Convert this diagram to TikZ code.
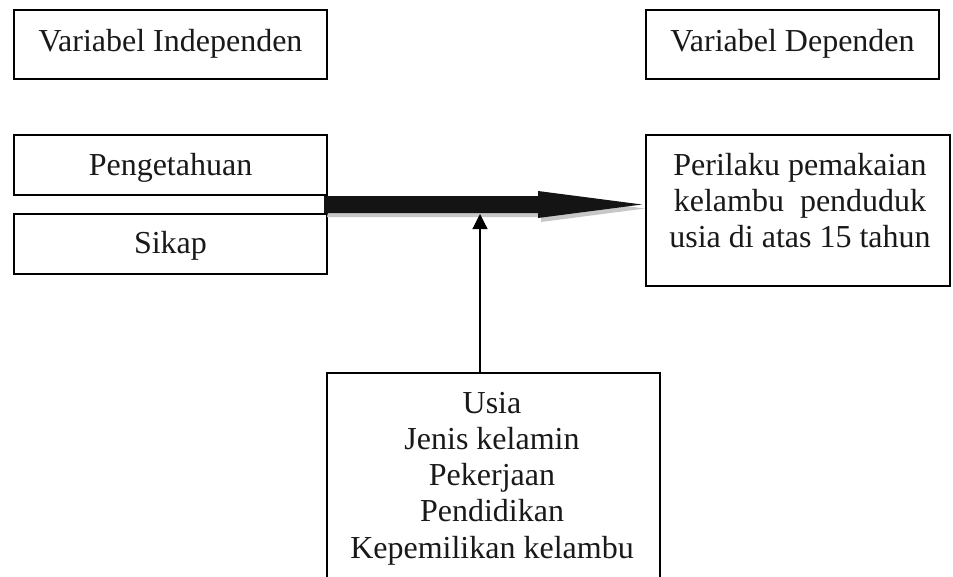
\documentclass[tikz,border=0pt]{standalone}
\usepackage{fontspec}
\setmainfont{Liberation Serif}
\usetikzlibrary{arrows.meta}
\begin{document}
\begin{tikzpicture}[x=1pt,y=-1pt,
  box/.style={draw=black, line width=1.6pt, inner sep=0pt},
  txt/.style={anchor=base, inner sep=0pt, font=\fontsize{32}{36}\selectfont, text=black!90},
  blockarrow/.style={fill=black!92},
  blockshadow/.style={fill=black!22},
  thinarrow/.style={line width=1.2pt, -{Triangle[length=15pt,width=15pt]}}
]
\useasboundingbox (0,0) rectangle (953,576);
\fill[white] (0,0) rectangle (953,576);

% header boxes
\node[box, minimum width=313pt, minimum height=69pt] (bIndep) at (170.5,44.5) {};
\node[txt] (tIndep) at (170.5,51) {Variabel Independen};
\node[box, minimum width=293pt, minimum height=69pt] (bDep) at (792.5,44.5) {};
\node[txt] (tDep) at (792.5,51) {Variabel Dependen};

% independent variable boxes
\node[box, minimum width=313pt, minimum height=60pt] (bPeng) at (170.5,165) {};
\node[txt] (tPeng) at (170.5,175) {Pengetahuan};
\node[box, minimum width=313pt, minimum height=60pt] (bSikap) at (170.5,244) {};
\node[txt] (tSikap) at (170.5,253) {Sikap};

% dependent variable box
\node[box, minimum width=304pt, minimum height=151pt] (bPer) at (798,210.5) {};
\node[txt] (p1) at (800,175) {Perilaku pemakaian};
\node[txt] (p2) at (800,211) {kelambu\ \ penduduk};
\node[txt] (p3) at (800,247) {usia di atas 15 tahun};

% confounding box
\node[box, minimum width=333pt, minimum height=220pt] (bUsia) at (493.5,483) {};
\foreach \t [count=\i] in {Usia, Jenis kelamin, Pekerjaan, Pendidikan, Kepemilikan kelambu}
  \node[txt] (u\i) at ({492},{413+36.25*(\i-1)}) {\t};

% block arrow (with shadow)
\coordinate (aStart) at (bPeng.south east);
\coordinate (aTip) at (642,204.5);
\fill[blockshadow] ([shift={(3,4)}]aStart) ++(0,1) -- ++(214,0) -- ++(0,-5) -- ([shift={(3,4)}]aTip) -- ++(-104,13.5) -- ++(0,-5) -- ++(-214,0) -- cycle;
\fill[blockarrow] (324,196) -- (538,196) -- (538,191) -- (aTip) -- (538,218) -- (538,213) -- (324,213) -- cycle;

% thin arrow from confounders to block arrow
\coordinate (vTip) at (480,214);
\draw[thinarrow] (vTip |- bUsia.north) -- (vTip);
\end{tikzpicture}
\end{document}
